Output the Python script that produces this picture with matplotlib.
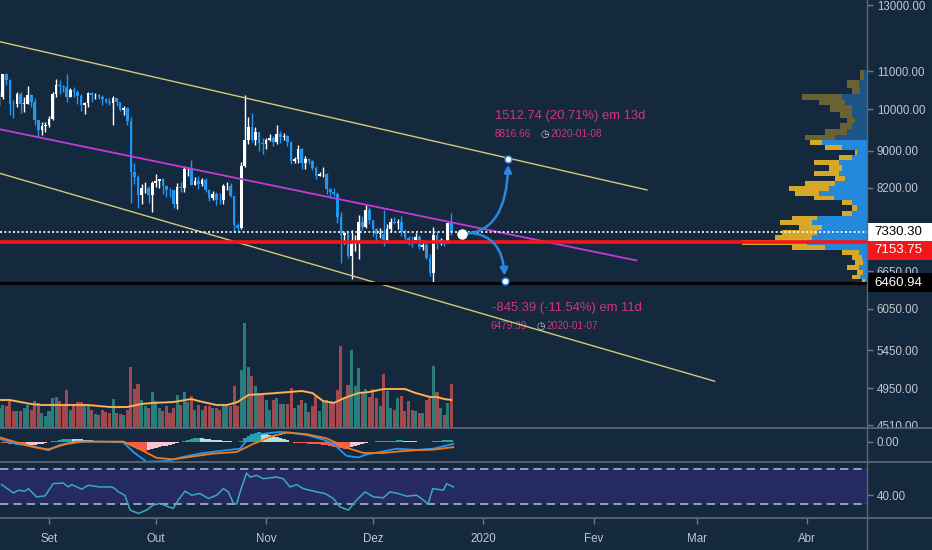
import numpy as np
import pandas as pd
import matplotlib
matplotlib.use("Agg")
import matplotlib.pyplot as plt
import matplotlib.dates as mdates
from matplotlib.patches import Rectangle
from matplotlib.lines import Line2D
from matplotlib.colors import to_rgba
from matplotlib.ticker import FixedLocator, FixedFormatter, NullLocator

plt.rcParams['font.family'] = ['Liberation Sans', 'DejaVu Sans']

# ---------------- data ----------------
start_date = "2019-08-18"   # first daily candle
opens = [10220, 10310, 10920, 10760, 10140, 10130, 10400, 10140, 10140, 10370, 10185, 9720, 9480, 9580,
         9600, 9760, 10390, 10620, 10590, 10580, 10320, 10500, 10440, 10340, 10110, 10160, 10410, 10360, 10360,
         10310, 10260, 10190, 10160, 10280, 10170, 9990, 10030, 9700, 8530, 8430, 8060, 8190, 8200, 8050,
         8300, 8340, 8390, 8240, 8160, 8150, 7870, 8210, 8190, 8590, 8590, 8270, 8340, 8290, 8360, 8160,
         8000, 8080, 7960, 7950, 8230, 8230, 8030, 7470, 7410, 8660, 9260, 9550, 9250, 9430, 9180,
         9150, 9250, 9300, 9200, 9400, 9330, 9350, 9210, 8770, 8810, 9040, 8730, 8820, 8770, 8630,
         8460, 8490, 8500, 8180, 8120, 8080, 7620, 7280, 7320, 6900, 7120, 7160, 7520, 7440, 7760,
         7570, 7400, 7300, 7300, 7200, 7400, 7530, 7510, 7530, 7340, 7220, 7200, 7190, 7250, 7070,
         7110, 6880, 6620, 7280, 7150, 7190, 7140, 7510]
highs = [10470, 10930, 10950, 10800, 10240, 10440, 10430, 10300, 10600, 10390, 10290, 9730, 9670, 9680,
         9840, 10440, 10790, 10750, 10640, 10920, 10560, 10580, 10500, 10390, 10190, 10450, 10440, 10420, 10380,
         10370, 10280, 10280, 10330, 10290, 10190, 10090, 10060, 9800, 8720, 8470, 8280, 8320, 8230, 8350,
         8500, 8390, 8400, 8250, 8190, 8160, 8300, 8330, 8660, 8640, 8800, 8430, 8450, 8400, 8410, 8170,
         8130, 8110, 8090, 8280, 8330, 8300, 8040, 7500, 8750, 10370, 9800, 9900, 9550, 9440, 9310,
         9300, 9390, 9350, 9600, 9470, 9410, 9370, 9240, 8860, 9130, 9070, 8880, 8850, 8800, 8660,
         8540, 8650, 8510, 8200, 8200, 8120, 7720, 7340, 7350, 7370, 7280, 7660, 7640, 7860, 7810,
         7570, 7420, 7410, 7750, 7480, 7600, 7620, 7580, 7630, 7400, 7270, 7260, 7310, 7280, 7200,
         7140, 6940, 7430, 7360, 7230, 7190, 7520, 7690]
lows = [10080, 10260, 10620, 9860, 9780, 10060, 9900, 9920, 10120, 10060, 9620, 9330, 9360, 9440,
        9560, 9740, 10310, 10390, 10430, 10180, 10320, 10300, 10120, 9960, 9870, 10050, 10170, 10250, 10270,
        10100, 10150, 10110, 9610, 10080, 9950, 9860, 9620, 7900, 8280, 7800, 7870, 8090, 7900, 7720,
        8210, 8190, 8070, 8010, 8020, 7790, 7770, 8110, 8120, 8450, 8250, 8250, 8180, 8240, 8110, 7940,
        7960, 7850, 7880, 7880, 8160, 8010, 7330, 7360, 7400, 8640, 9150, 9200, 9140, 8990, 8920,
        9040, 9220, 9120, 9160, 9180, 9260, 9120, 8700, 8740, 8740, 8610, 8590, 8710, 8570, 8380,
        8440, 8420, 8070, 8000, 8030, 7510, 6790, 7120, 6880, 6520, 7000, 6860, 7370, 7420, 7480,
        7260, 7160, 7230, 7080, 7170, 7340, 7480, 7400, 7270, 7160, 7110, 7070, 7190, 7030, 7020,
        6860, 6570, 6461, 7030, 7100, 7090, 7130, 7280]
closes = [10310, 10920, 10760, 10140, 10130, 10400, 10140, 10140, 10370, 10185, 9720, 9480, 9580, 9600,
          9760, 10390, 10620, 10590, 10580, 10320, 10500, 10440, 10340, 10110, 10160, 10410, 10360, 10360, 10310,
          10260, 10190, 10160, 10280, 10170, 9990, 10030, 9700, 8530, 8430, 8060, 8190, 8200, 8050, 8300,
          8340, 8390, 8240, 8160, 8150, 7870, 8210, 8190, 8590, 8590, 8270, 8340, 8290, 8360, 8160, 8000,
          8080, 7960, 7950, 8230, 8230, 8030, 7470, 7410, 8660, 9260, 9550, 9250, 9430, 9180, 9150,
          9250, 9300, 9200, 9400, 9330, 9350, 9210, 8770, 8810, 9040, 8730, 8820, 8770, 8630, 8460,
          8490, 8500, 8180, 8120, 8080, 7620, 7280, 7320, 6900, 7120, 7160, 7520, 7440, 7760, 7570,
          7400, 7300, 7300, 7200, 7400, 7530, 7510, 7530, 7340, 7220, 7200, 7190, 7250, 7070, 7110,
          6880, 6620, 7280, 7150, 7190, 7140, 7510, 7330]
volume = [20, 23, 22, 29, 17, 17, 17, 20, 23, 18, 27, 25, 15, 12,
          17, 30, 31, 27, 22, 38, 18, 22, 26, 26, 22, 22, 18, 14, 13, 18, 16, 15, 29, 15, 14, 13, 18, 61, 39, 44, 28, 22, 20, 36,
          27, 20, 17, 22, 15, 20, 33, 23, 36, 26, 32, 18, 23, 18, 22, 22, 20, 20, 18, 22, 22, 22, 42, 22, 58, 105, 61, 52, 42, 35, 33,
          28, 18, 28, 30, 24, 24, 24, 40, 20, 23, 28, 25, 16, 22, 32, 17, 27, 28, 27, 25, 38, 82, 30, 43, 78, 42, 60, 35, 39, 31,
          39, 30, 22, 54, 37, 20, 18, 30, 32, 17, 27, 18, 17, 15, 15, 28, 30, 62, 36, 20, 13, 25, 44]

# indicator readings, "day" = days after 2019-09-01
vol_ma_day = [-14, -11, -5, -2, 5, 11, 17, 22, 26, 29, 35, 40, 42, 47, 50, 53, 56, 60, 64, 71, 74, 77, 80,
              83, 87, 90, 94, 100, 103, 107, 109, 111, 113]
vol_ma = [28, 28, 24, 23, 23, 23, 21, 21, 24, 25, 26, 29, 27, 23, 23, 26, 33, 34, 35, 37, 35, 27, 25,
          30, 35, 36, 39, 39, 35, 31, 31, 29, 28]

macd_hist = [-0.5, -1, -1.5, -2, -2.5, -3, -3.2, -3.5, -3.5, -3.2, -3, -2.8, -2.2, -1.5, -0.8,
             0.5, 1, 2, 2.5, 3, 3, 2.8, 2.5, 2.2, 2, 1.5, 1.2, 1, 0.6,
             0.3, 0.1, -0.2, -0.3, -0.4, -0.5, -0.8,
             -1.5, -3, -5.5, -7.5, -9, -9.5, -8.8, -8, -7, -6, -5, -4, -3, -2, -1.2, -0.5,
             1, 2, 3, 3.5, 3.8, 3.5, 3, 2.5, 2, 1.6, 1.3, 1, 0.6, 0.2,
             -0.8, -0.5,
             1, 3.5, 6, 8, 9, 9.5, 9, 8, 7, 6, 5, 4, 3, 1.5,
             -0.5, -1, -1.2, -1.5, -1.8, -2, -2.2, -2.5, -2.8, -3.2, -3.8, -4.5, -5.2, -6, -6.8, -7.3,
             -7.5, -6, -4.5, -3, -2, -1,
             0, 0, 0.2, 0.2, 0.3, 0.3,
             0.5, 1, 1.2, 1.2, 1, 0.8, 0.6, 0.4,
             0, -0.2, -0.5, -0.3,
             0.3, 0.8, 1, 1.2, 1.2, 1.3]
macd_day = [-13.8, -9.1, -4.4, -0.2, 3.1, 7.8, 14.3, 20.9, 23.7, 27.4, 33.0, 37.7, 42.4, 47.1, 51.8,
            53.7, 55.5, 59.3, 64.9, 67.7, 72.4, 77.1, 79.9, 83.6, 86.9, 89.2, 93.9, 97.7, 103.3,
            107.9, 111.7, 113.6]
macd_line = [2.7, -2.3, -4.7, -9, -3.3, 0, 0, -0.7, -10.7, -20.7, -20, -15.7, -12.3, -10, -8,
             -7.3, 1, 7.7, 10, 9.3, 6.7, 2, -2.3, -14.7, -16.3, -13.3, -10, -7.3, -8.5,
             -7.3, -4, -2.3]
signal_day = [-13.8, -9.1, -4.4, -0.2, 5.0, 9.6, 20.9, 25.6, 30.2, 34.9, 39.6, 46.2, 52.7, 57.4, 63.0,
              66.8, 72.4, 78.0, 84.5, 88.3, 93.9, 98.6, 103.3, 107.9, 113.6]
signal_line = [4.3, -0.7, -5.7, -8, -2.3, 0, 0, -8, -16.7, -18.3, -15.7, -12.3, -10.7, -2.3, 6,
               9.3, 7.7, 3.3, -7.3, -11.7, -11.7, -10, -8.7, -8.3, -5.7]

rsi_day = [-13.3, -10, -8.6, -6.7, -5.8, -3.5, -1.1, 1.2, 4.0, 5.4, 6.4, 9.2, 11.0, 14.3, 17.6, 18.5,
           19.5, 21.3, 22.8, 25.1, 27.4, 29.3, 31.2, 33.5, 34.9, 36.3, 38.2, 40.1, 42.4, 44.8, 47.1, 49.0,
           50.4, 51.8, 52.7, 53.7, 55.5, 56.5, 58.3, 60.2, 63.9, 65.8, 67.7, 69.6, 71.4, 75.2, 77.5, 79.9,
           81.7, 84.1, 86.4, 88.8, 91.1, 93.9, 95.8, 98.1, 100.5, 103.3, 105.2, 106.5, 107.8, 110.8, 111.7, 113.6]
rsi = [52.5, 42.9, 46, 44.9, 47.9, 38.4, 39.5, 53.6, 54.4, 49.8, 52.5, 47.1, 51.7, 49.8, 49.8, 47.9,
       44.1, 40.3, 23.1, 19.3, 23.1, 28.9, 30.8, 26.9, 25.1, 34.6, 44.9, 40.3, 42.2, 36.5, 40.3, 47.9,
       44.1, 30.8, 30, 44.1, 65.8, 61.2, 63.1, 59.3, 61.2, 59.3, 49.8, 52.5, 47.9, 44.1, 42.2, 36.5,
       26.9, 23.1, 34.6, 44.1, 38.4, 37.3, 44.1, 42.2, 39.1, 40.3, 34.6, 30, 47.9, 46, 53.6, 49.8]

# visible range volume profile (row price, total width, up part)
profile_price = [10898, 10626, 10494, 10284, 10181, 10027, 9853, 9729, 9607, 9439, 9321, 9205, 9090,
                 8976, 8863, 8752, 8620, 8512, 8406, 8300, 8197, 8095, 7994, 7894, 7795, 7697, 7600,
                 7524, 7430, 7337, 7245, 7154, 7064, 6976, 6889, 6802, 6717, 6633, 6550, 6484]
profile_total = [7, 20, 15, 65, 48, 37, 27, 20, 27, 42, 62, 57, 42, 12, 28, 53, 38, 53, 32, 62,
                 78, 72, 53, 25, 15, 25, 75, 87, 68, 85, 92, 125, 75, 25, 15, 12, 20, 10, 15, 5]
profile_up = [3, 8, 7, 25, 22, 15, 15, 12, 15, 20, 32, 45, 25, 10, 15, 28, 25, 28, 22, 32,
              38, 48, 33, 15, 10, 15, 50, 55, 45, 50, 55, 60, 42, 8, 5, 4, 8, 4, 7, 2]
value_area_high = 9300

# drawings
upper_dates, upper_prices = ["2019-08-18", "2020-02-16"], [11857, 8158]
lower_dates, lower_prices = ["2019-08-18", "2020-03-06"], [8511, 5038]
mid_dates, mid_prices = ["2019-08-18", "2020-02-13"], [9508, 6830]
last_price = 7330.30
poc_price = 7153.75
low_price = 6460.94

proj_start_dates = ["2019-12-26", "2019-12-27"]
proj_start_prices = [7303.92, 7324.78]
proj_end_dates = ["2020-01-08", "2020-01-07"]
proj_end_prices = [8816.66, 6479.39]
proj_main = ["1512.74 (20.71%) em 13d", "-845.39 (-11.54%) em 11d"]

price_ticks = [13000, 11000, 10000, 9000, 8200, 6650, 6050, 5450, 4950, 4510]
month_ticks = ["2019-09-01", "2019-10-01", "2019-11-01", "2019-12-01", "2020-01-01", "2020-02-01",
               "2020-03-01", "2020-04-01"]
month_labels = ["Set", "Out", "Nov", "Dez", "2020", "Fev", "Mar", "Abr"]

# ---------------- style ----------------
W, H = 932, 550
BG = '#14293d'
UP, DOWN = '#ffffff', '#2196f3'
VOL_UP, VOL_DN = '#2b7d7a', '#a2484f'
RED = '#f4161b'
CHAN = '#d8c77a'
MAG = '#c43ad6'
PINK = '#d0357f'
ARROW = '#2a86e0'
TXT = '#c3c7cf'
TICK = '#6f7a87'
SEP = '#5b6775'
BAND = '#262a63'
FS = 8.3

o, h, l, c = map(np.array, (opens, highs, lows, closes))
dates = pd.date_range(start_date, periods=len(c), freq='D')
x = mdates.date2num(dates.to_pydatetime())
base = mdates.date2num(pd.Timestamp("2019-09-01").to_pydatetime())


def dnum(s):
    return mdates.date2num(pd.Timestamp(s).to_pydatetime())


fig = plt.figure(figsize=(W / 100, H / 100), dpi=100)
fig.patch.set_facecolor(BG)


def box(x0, y0, x1, y1):
    return [x0 / W, 1 - y1 / H, (x1 - x0) / W, (y1 - y0) / H]


ax_vol = fig.add_axes(box(0, 0, 867, 428), zorder=1)
ax = fig.add_axes(box(0, 0, 867, 428), sharex=ax_vol, zorder=3)
ax_prof = fig.add_axes(box(735, 0, 867, 428), sharey=ax, zorder=2)
ax_macd = fig.add_axes(box(0, 429, 867, 462), sharex=ax_vol, zorder=6)
ax_rsi = fig.add_axes(box(0, 463, 867, 518), sharex=ax_vol, zorder=6)

for a in (ax_vol, ax, ax_prof, ax_macd, ax_rsi):
    for s in a.spines.values():
        s.set_visible(False)
    a.set_facecolor(BG)
    a.tick_params(bottom=False, labelbottom=False, left=False, labelleft=False)
ax.patch.set_visible(False)
ax_prof.patch.set_visible(False)

ax_vol.set_xlim(base - 13.76, base + 229.8)

# volume
up = c >= o
ax_vol.bar(x, volume, width=0.86, color=np.where(up, VOL_UP, VOL_DN), linewidth=0)
ax_vol.plot(base + np.array(vol_ma_day), vol_ma, color='#f0932b', lw=1.5)
ax_vol.plot(base + np.array(vol_ma_day), vol_ma, color='#f6e0b5', lw=0.5, alpha=0.8)
ax_vol.set_ylim(0, 428)

# price pane
ax.set_yscale('log')
ax.set_ylim(4478, 13165)
ax.yaxis.set_major_locator(FixedLocator(price_ticks))
ax.yaxis.set_major_formatter(FixedFormatter([f"{p:.2f}" for p in price_ticks]))
ax.yaxis.set_minor_locator(NullLocator())
ax.yaxis.tick_right()
ax.tick_params(axis='y', right=True, labelright=True, length=4, width=1, color=TICK,
               labelcolor=TXT, labelsize=FS, pad=3)

cols = np.where(up, UP, DOWN)
ax.vlines(x, l, h, colors=cols, linewidth=1, zorder=3)
ax.bar(x, np.maximum(np.abs(c - o), 10), bottom=np.minimum(o, c), width=0.74, color=cols,
       linewidth=0, zorder=4)

ax.plot([dnum(d) for d in upper_dates], upper_prices, color=CHAN, lw=1, zorder=5)
ax.plot([dnum(d) for d in lower_dates], lower_prices, color=CHAN, lw=1, zorder=5)
ax.plot([dnum(d) for d in mid_dates], mid_prices, color=MAG, lw=1.3, zorder=5)
ax.axhline(poc_price, color=RED, lw=2.6, zorder=5)
ax.axhline(low_price, color='black', lw=2.2, zorder=5)
ax.axhline(last_price, color='white', lw=1.2, ls=(0, (1.2, 1.4)), zorder=5)

# projection arrows
for i in range(2):
    s = (dnum(proj_start_dates[i]), proj_start_prices[i])
    e = (dnum(proj_end_dates[i]), proj_end_prices[i])
    ax.annotate('', xy=e, xytext=s, zorder=7,
                arrowprops=dict(arrowstyle='-|>', color=ARROW, lw=1.8, mutation_scale=11,
                                shrinkA=3, shrinkB=4,
                                connectionstyle='angle3,angleA=0,angleB=90'))
    ax.plot(*e, 'o', ms=5, mfc='white', mec=ARROW, mew=1, zorder=8)
    ty = 43 if i == 0 else -27
    ax.annotate(proj_main[i], xy=e, xytext=(-13, ty), textcoords='offset pixels',
                color=PINK, fontsize=9.4, ha='left', va='center', zorder=4)
    dy = 25 if i == 0 else -45
    ax.annotate(f"{proj_end_prices[i]:.2f}", xy=e, xytext=(-14, dy), textcoords='offset pixels',
                color=PINK, fontsize=7.2, ha='left', va='center', zorder=4)
    ax.annotate("\u25F7", xy=e, xytext=(32, dy), textcoords='offset pixels', color='#c9cdd3',
                fontsize=7, ha='left', va='center', family='DejaVu Sans', zorder=4)
    ax.annotate(proj_end_dates[i], xy=e, xytext=(42, dy), textcoords='offset pixels',
                color=PINK, fontsize=7.2, ha='left', va='center', zorder=4)
ax.plot(dnum(proj_start_dates[0]), proj_start_prices[0], 'o', ms=6.5, color='white', zorder=8)

# volume profile
pp = np.array(profile_price, float)
mids = np.sqrt(pp[:-1] * pp[1:])
tops = np.r_[pp[0] * np.sqrt(pp[0] / pp[1]), mids]
bots = np.r_[mids, pp[-1] * np.sqrt(pp[-1] / pp[-2])]
pu = np.array(profile_up, float)
pdn = np.array(profile_total, float) - pu
alph = np.where(pp > value_area_high, 0.45, 1.0)
ax_prof.barh(bots, pu, height=tops - bots, left=0, align='edge', linewidth=0,
             color=[to_rgba('#2489dd', a) for a in alph])
ax_prof.barh(bots, pdn, height=tops - bots, left=pu, align='edge', linewidth=0,
             color=[to_rgba('#d6a82a', a) for a in alph])
ax_prof.set_xlim(132, 0)
ax_prof.tick_params(right=False, labelright=False)

# MACD pane
hist = np.array(macd_hist)
prev = np.r_[hist[0], hist[:-1]]
hcol = np.where(hist >= 0, np.where(hist >= prev, '#26a69a', '#b2dfdb'),
                np.where(hist < prev, '#f45a4f', '#f9c6cf'))
ax_macd.bar(x, hist, width=1.0, color=hcol, linewidth=0)
ax_macd.plot(base + np.array(macd_day), macd_line, color='#2196f3', lw=1.3)
ax_macd.plot(base + np.array(signal_day), signal_line, color='#f07a18', lw=1.3)
ax_macd.set_ylim(-21, 13)
ax_macd.yaxis.tick_right()
ax_macd.set_yticks([0])
ax_macd.set_yticklabels(["0.00"])
ax_macd.tick_params(axis='y', right=True, labelright=True, length=4, width=1, color=TICK,
                    labelcolor=TXT, labelsize=FS, pad=3)

# RSI pane
ax_rsi.axhspan(30, 70, color=BAND, lw=0)
for lv in (30, 70):
    ax_rsi.axhline(lv, color='#aab4c8', lw=1.2, ls=(0, (5, 3)))
ax_rsi.plot(base + np.array(rsi_day), rsi, color='#3aa8c2', lw=1.1)
ax_rsi.set_ylim(14, 77.4)
ax_rsi.yaxis.tick_right()
ax_rsi.set_yticks([40])
ax_rsi.set_yticklabels(["40.00"])
ax_rsi.tick_params(axis='y', right=True, labelright=True, length=4, width=1, color=TICK,
                   labelcolor=TXT, labelsize=FS, pad=3)
ax_rsi.set_xticks([dnum(m) for m in month_ticks])
ax_rsi.set_xticklabels(month_labels)
ax_rsi.tick_params(axis='x', bottom=True, labelbottom=True, length=4, width=1, color=TICK,
                   labelcolor=TXT, labelsize=FS, pad=7)

# cover the price scale below the price pane
fig.add_artist(Rectangle((868 / W, 1 - 462 / H), 64 / W, 33.5 / H, transform=fig.transFigure,
                         facecolor=BG, edgecolor='none', zorder=5))


def fig_y(price):
    disp = ax.transData.transform((ax.get_xlim()[0], price))
    return fig.transFigure.inverted().transform(disp)[1]


for price, face, fg, shift in ((last_price, 'white', 'black', 0), (poc_price, RED, 'white', -8),
                               (low_price, 'black', 'white', 0)):
    yc = fig_y(price) + shift / H
    fig.add_artist(Rectangle((867 / W, yc - 9.5 / H), 65 / W, 19 / H, transform=fig.transFigure,
                             facecolor=face, edgecolor='none', zorder=10))
    fig.text(874 / W, yc, f"{price:.2f}", color=fg, fontsize=9.5, va='center', ha='left', zorder=11)

for yy in (428, 462, 518):
    fig.add_artist(Line2D([0, 1], [1 - yy / H] * 2, transform=fig.transFigure, color=SEP, lw=1.3,
                          zorder=12))
fig.add_artist(Line2D([867 / W] * 2, [0, 1], transform=fig.transFigure, color=SEP, lw=1, zorder=12))

fig.savefig("out.png", dpi=100, facecolor=BG)
